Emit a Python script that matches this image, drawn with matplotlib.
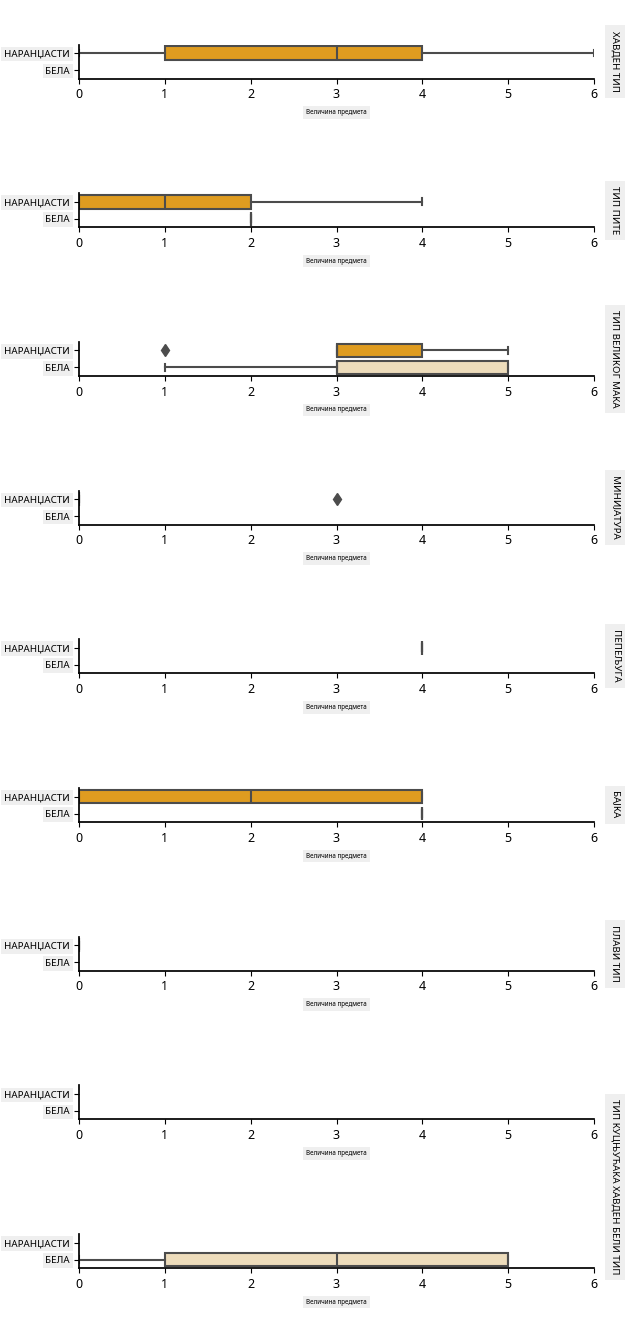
import colorsys
import matplotlib.pyplot as plt
from matplotlib.colors import to_rgb

# pumpkin varieties (facet rows) and colours (y categories)
types = ["ХАВДЕН ТИП", "ТИП ПИТЕ", "ТИП ВЕЛИКОГ МАКА", "МИНИЈАТУРА", "ПЕПЕЉУГА",
         "БАЈКА", "ПЛАВИ ТИП", "ТИП КУЦЊУЋАКА ХАВДЕН", "БЕЛИ ТИП"]
colors = ["НАРАНЏАСТИ", "БЕЛА"]

# item size values per variety
orange_sizes = [[0, 1, 1, 3, 3, 4, 4, 6], [0, 0, 0, 1, 2, 2, 4], [1, 3, 3, 3, 4, 4, 5],
                [0, 0, 0, 0, 3], [4, 4, 4], [0, 0, 2, 4, 4], [0, 0], [], []]
white_sizes = [[], [2, 2], [1, 3, 3, 3, 5, 5, 5], [], [], [4, 4], [], [],
               [0, 1, 1, 3, 5, 5, 5]]
x_ticks = [0, 1, 2, 3, 4, 5, 6]
x_label = "Величина предмета"


def desaturate(c, prop=0.75):
    h, l, s = colorsys.rgb_to_hls(*to_rgb(c))
    return colorsys.hls_to_rgb(h, l, s * prop)


fills = [desaturate("orange"), desaturate("wheat")]
line = "#4c4c4c"
bg = "#efefef"
plt.rcParams["font.family"] = ["Noto Sans", "DejaVu Sans"]

W, H = 628, 1337
fig = plt.figure(figsize=(W / 100, H / 100), dpi=100)

left_px, right_px = 79, 594
top0, step, ax_h = 44.5, 148.7, 34

axes = []
for i, t in enumerate(types):
    top = top0 + step * i
    ax = fig.add_axes([left_px / W, 1 - (top + ax_h) / H, (right_px - left_px) / W, ax_h / H])
    axes.append(ax)
    for j, vals in enumerate([orange_sizes[i], white_sizes[i]]):
        if not vals:
            continue
        ax.boxplot([vals], positions=[j], widths=0.8, orientation="horizontal",
                   patch_artist=True, manage_ticks=False,
                   boxprops=dict(facecolor=fills[j], edgecolor=line, linewidth=1.5),
                   medianprops=dict(color=line, linewidth=1.5),
                   whiskerprops=dict(color=line, linewidth=1.5),
                   capprops=dict(color=line, linewidth=1.5),
                   flierprops=dict(marker="d", markerfacecolor=line,
                                   markeredgecolor=line, markersize=6))
    ax.set_xlim(0, 6)
    ax.set_ylim(1.5, -0.5)
    ax.set_xticks(x_ticks)
    ax.set_xticklabels([str(v) for v in x_ticks], fontsize=9)
    ax.set_yticks([0, 1])
    ax.set_yticklabels(colors, fontsize=7)
    for lab in ax.get_yticklabels():
        lab.set_bbox(dict(facecolor=bg, edgecolor="none", pad=2))
    ax.tick_params(axis="y", pad=3)
    for s in ["top", "right"]:
        ax.spines[s].set_visible(False)
    for s in ["left", "bottom"]:
        ax.spines[s].set_linewidth(1.25)
    ax.text(0.5, -1.0, x_label, transform=ax.transAxes, ha="center", va="center",
            fontsize=4.5, bbox=dict(facecolor=bg, edgecolor="none", pad=2))

# row titles on the right
title_x = 1 + (615 - right_px) / (right_px - left_px)
for i in range(7):
    axes[i].text(title_x, 0.5, types[i], transform=axes[i].transAxes, rotation=270,
                 ha="center", va="center", fontsize=7,
                 bbox=dict(facecolor=bg, edgecolor="none", pad=4))
# last two titles run into each other
fig.text(615 / W, 1 - 1187 / H, types[7] + " " + types[8], rotation=270,
         ha="center", va="center", fontsize=7,
         bbox=dict(facecolor=bg, edgecolor="none", pad=4))

plt.savefig("out.png", dpi=100)
plt.close()
